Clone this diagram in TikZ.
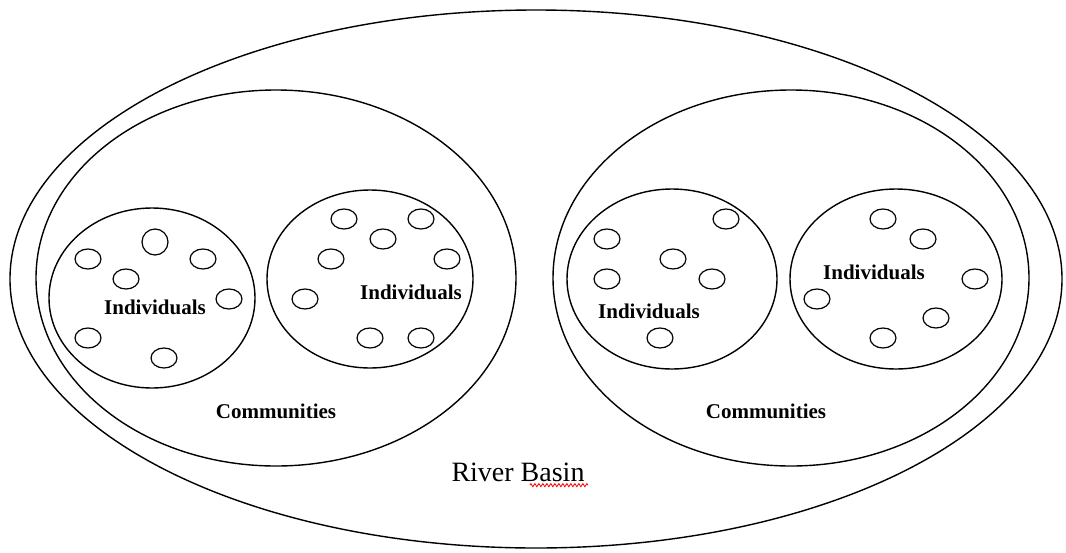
\documentclass[tikz,border=0pt]{standalone}
\usepackage{fontspec}
\setmainfont{Liberation Serif}
\usetikzlibrary{calc,decorations.pathmorphing}

\begin{document}
\begin{tikzpicture}[x=0.5pt,y=-0.5pt,line width=0.7pt,
    lbl/.style={font=\fontsize{10.5}{12}\selectfont\bfseries},
    dot/.style={line width=0.6pt}]
            \useasboundingbox (0,0) rectangle (1066,552);

            % river basin and communities
            \draw (536,279) ellipse (526 and 269);
            \draw (276,278) ellipse (240 and 188);
            \draw (791,278) ellipse (238 and 188);

            % groups of individuals
            \draw (152,298) ellipse (103 and 90);
            \draw (370,279) ellipse (103 and 89);
            \draw (672,279) ellipse (105 and 90);
            \draw (896,279) ellipse (106 and 90);

            % single individuals
            \foreach \x/\y in {88/259, 203/259, 126/279, 229/299, 88/338, 164/358,
                               344/219, 421/219, 383/239, 331/259, 447/259, 305/299, 370/338, 421/338,
                               726/219, 607/239, 673/259, 607/279, 712/279, 660/338,
                               883/219, 923/239, 975/279, 817/299, 936/318, 883/338}
                \draw [dot] (\x,\y) ellipse (13 and 10);
            \draw [dot] (155,242) ellipse (13 and 13);

            \node [lbl] (ind1) at (155,307) {Individuals};
            \node [lbl] (ind2) at (411,292) {Individuals};
            \node [lbl] (ind3) at (649,311) {Individuals};
            \node [lbl] (ind4) at (874,272) {Individuals};
            \node [lbl] (com1) at (276,411) {Communities};
            \node [lbl] (com2) at (766,411) {Communities};
            \node [font=\fontsize{14}{16}\selectfont] (basin) at (518,472) {River Basin};

            \draw [red, line width=0.4pt, decorate, decoration={zigzag, amplitude=0.8pt, segment length=2pt}]
                ($(basin.base east)+(-62,4)$) -- ($(basin.base east)+(-4,4)$);
        \end{tikzpicture}
\end{document}
